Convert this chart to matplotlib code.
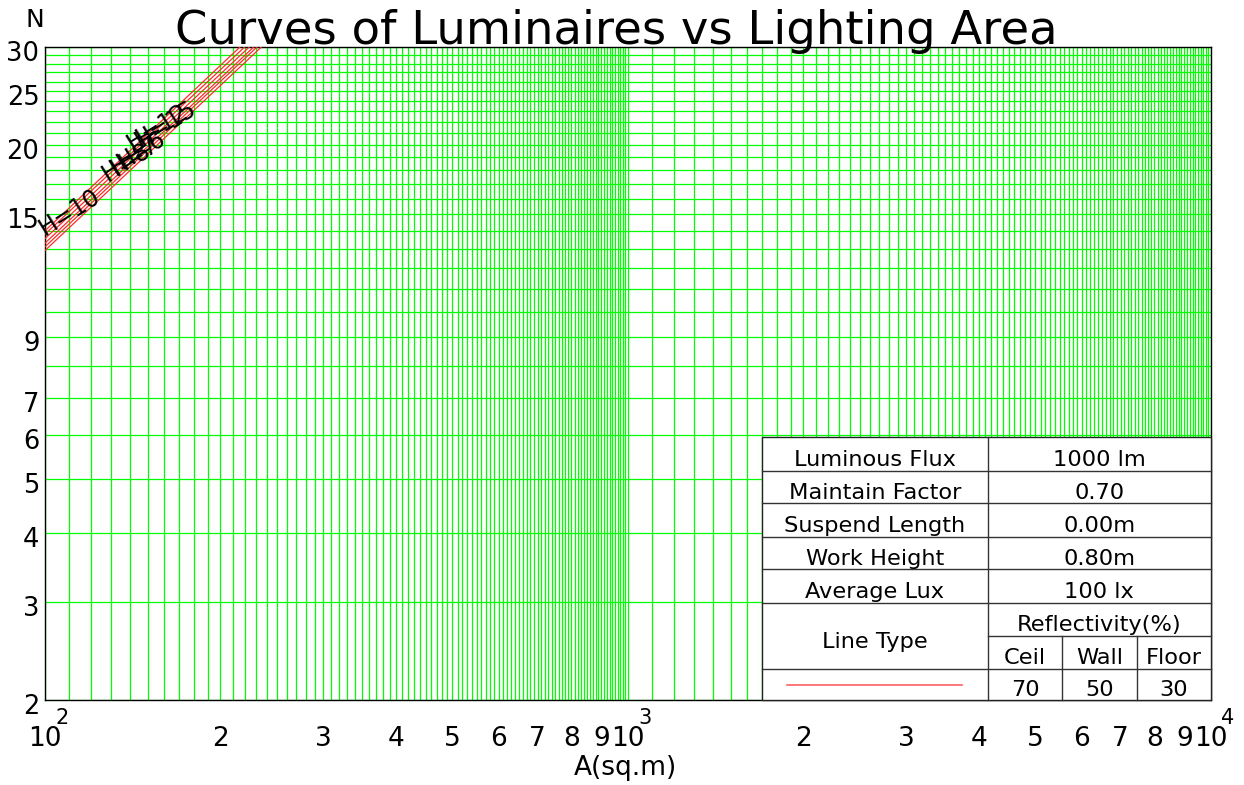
import matplotlib
matplotlib.use("Agg")
import matplotlib.pyplot as plt
from matplotlib.patches import Rectangle
from matplotlib.transforms import ScaledTranslation

# chart data
heights = [6, 7, 8, 10, 12, 15]
n_at_100 = [12.9, 13.1, 13.3, 13.55, 13.8, 14.0]   # N read at A = 100 sq.m
a_at_30 = [235, 231, 228, 224, 220, 216]           # A where each curve reaches N = 30
label_a = [146, 142, 138, 110, 156, 161]           # where the H= labels sit
label_n = [19.6, 19.1, 18.6, 15.1, 21.5, 21.8]

grid_x = list(range(100, 1000, 10)) + list(range(1000, 10001, 100))
grid_y = list(range(2, 31))

x_ticks = [100, 200, 300, 400, 500, 600, 700, 800, 900,
           1000, 2000, 3000, 4000, 5000, 6000, 7000, 8000, 9000, 10000]
x_labels = ["10", "2", "3", "4", "5", "6", "7", "8", "9",
            "10", "2", "3", "4", "5", "6", "7", "8", "9", "10"]
x_powers = [(100, "2"), (1000, "3"), (10000, "4")]
y_ticks = [2, 3, 4, 5, 6, 7, 9, 15, 20, 25, 30]

params = ["Luminous Flux", "Maintain Factor", "Suspend Length", "Work Height", "Average Lux"]
param_values = ["1000 lm", "0.70", "0.00m", "0.80m", "100 lx"]
refl_names = ["Ceil", "Wall", "Floor"]
refl_values = ["70", "50", "30"]

fig = plt.figure(figsize=(12.44, 7.85), dpi=100)
ax = fig.add_axes([0.03617, 0.10828, 0.9373, 0.83185])
ax.set_xscale("log")
ax.set_yscale("log")
ax.set_xlim(100, 10000)
ax.set_ylim(2, 30)

# grid
ax.xaxis.remove_overlapping_locs = False
ax.yaxis.remove_overlapping_locs = False
ax.set_xticks(grid_x, minor=True)
ax.set_yticks(grid_y, minor=True)
ax.set_xticks(x_ticks, x_labels)
ax.set_yticks(y_ticks, [str(v) for v in y_ticks])
ax.grid(False, which="major")
ax.grid(True, which="minor", color="#00ff00", linewidth=0.9)
ax.set_axisbelow(True)
ax.tick_params(which="both", length=0)
ax.tick_params(axis="x", which="major", labelsize=19, pad=19)
ax.tick_params(axis="y", which="major", labelsize=18.5, pad=4)
ax.tick_params(which="minor", labelbottom=False, labelleft=False)
for sp in ax.spines.values():
    sp.set_linewidth(1.0)
    sp.set_color("black")

# y labels sit a little below their grid lines
shift = ScaledTranslation(0, -0.04, fig.dpi_scale_trans)
for lab in ax.get_yticklabels():
    lab.set_transform(lab.get_transform() + shift)

# exponents on the decade labels
for xv, p in x_powers:
    ax.annotate(p, xy=(xv, 0), xycoords=("data", "axes fraction"),
                xytext=(12, -6), textcoords="offset points",
                ha="center", va="top", fontsize=15, annotation_clip=False)

# curves
for h, n0, a1 in zip(heights, n_at_100, a_at_30):
    ax.plot([100, a1], [n0, 30], color="#ff2a2a", linewidth=0.9, zorder=3)
for h, la, ln in zip(heights, label_a, label_n):
    ax.text(la, ln, f"H={h}", rotation=32, ha="center", va="center",
            fontsize=17, zorder=4)

# text around the plot
ax.text(0.49, 1.031, "Curves of Luminaires vs Lighting Area", transform=ax.transAxes,
        ha="center", va="center_baseline", fontsize=33.5)
fig.text(34.5 / 1244, 1 - 20 / 785, "N", ha="center", va="center", fontsize=18)
ax.set_xlabel("A(sq.m)", fontsize=19, va="center")
ax.xaxis.set_label_coords(0.498, -0.104)

# parameter table in the lower right corner
cols = [0.615, 0.8085, 0.8725, 0.9365, 1.0]
rows = [0.402, 0.351, 0.301, 0.250, 0.200, 0.149, 0.0985, 0.048, 0.0]
tkw = dict(transform=ax.transAxes, zorder=6, clip_on=False)
ax.add_patch(Rectangle((cols[0], 0), 1 - cols[0], rows[0], facecolor="white",
                       edgecolor="#222222", linewidth=1.0, **tkw))

def hline(y, x0, x1):
    ax.plot([x0, x1], [y, y], color="#333333", linewidth=1.0, **tkw)

def vline(x, y0, y1):
    ax.plot([x, x], [y0, y1], color="#333333", linewidth=1.0, **tkw)

for r in rows[1:6]:
    hline(r, cols[0], 1.0)
hline(rows[6], cols[1], 1.0)
hline(rows[7], cols[0], 1.0)
vline(cols[1], 0, rows[0])
vline(cols[2], 0, rows[6])
vline(cols[3], 0, rows[6])

fs = 16.2
dy = 0.006
for i, (name, val) in enumerate(zip(params, param_values)):
    yc = (rows[i] + rows[i + 1]) / 2 - dy
    ax.text((cols[0] + cols[1]) / 2, yc, name, ha="center", va="center_baseline",
            fontsize=fs, transform=ax.transAxes, zorder=7)
    ax.text((cols[1] + 1.0) / 2, yc, val, ha="center", va="center_baseline",
            fontsize=fs, transform=ax.transAxes, zorder=7)
ax.text((cols[0] + cols[1]) / 2, (rows[5] + rows[7]) / 2 - dy, "Line Type",
        ha="center", va="center_baseline", fontsize=fs, transform=ax.transAxes, zorder=7)
ax.text((cols[1] + 1.0) / 2, (rows[5] + rows[6]) / 2 - dy, "Reflectivity(%)",
        ha="center", va="center_baseline", fontsize=fs, transform=ax.transAxes, zorder=7)
for j in range(3):
    xc = (cols[j + 1] + cols[j + 2]) / 2
    ax.text(xc, (rows[6] + rows[7]) / 2 - dy, refl_names[j], ha="center",
            va="center_baseline", fontsize=fs, transform=ax.transAxes, zorder=7)
    ax.text(xc, rows[7] / 2 - dy, refl_values[j], ha="center",
            va="center_baseline", fontsize=fs, transform=ax.transAxes, zorder=7)
ax.plot([0.636, 0.7867], [0.023, 0.023], color="#ff6060", linewidth=1.2, **tkw)

fig.savefig("out.png", dpi=100)
